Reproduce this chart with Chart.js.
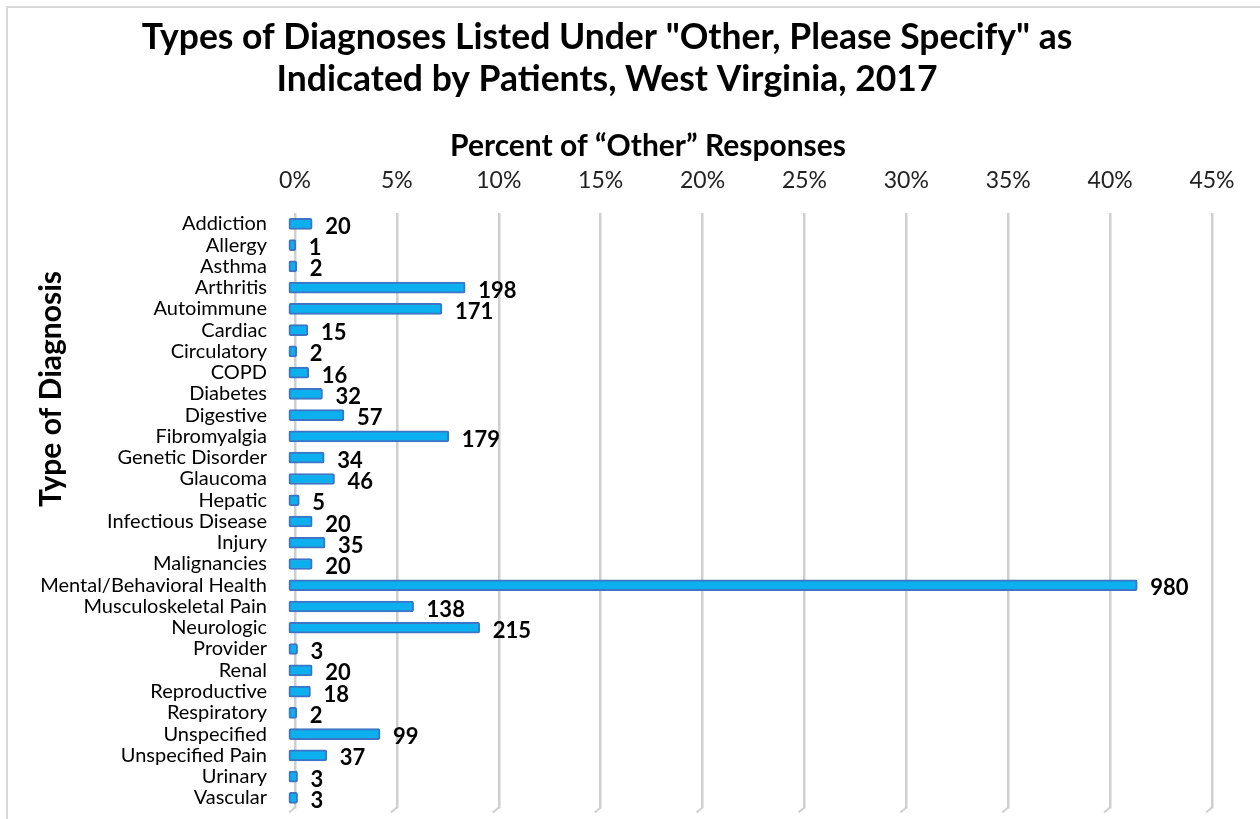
<!DOCTYPE html>
<html>
<head>
<meta charset="utf-8">
<script src="https://cdn.jsdelivr.net/npm/chart.js@4"></script>
<style>
  html, body { margin: 0; padding: 0; background: #fff; overflow: hidden; }
  #frame { position: absolute; left: 6px; top: 6px; width: 1400px; height: 900px;
           border-left: 2px solid #d9d9d9; border-top: 2px solid #d9d9d9; }
  #wrap { position: absolute; left: 0; top: 0; width: 1260px; height: 819px; }
</style>
</head>
<body>
<div id="frame"></div>
<div id="wrap"><canvas id="chart"></canvas></div>
<script>
var categories = ['Addiction', 'Allergy', 'Asthma', 'Arthritis', 'Autoimmune', 'Cardiac',
  'Circulatory', 'COPD', 'Diabetes', 'Digestive', 'Fibromyalgia', 'Genetic Disorder',
  'Glaucoma', 'Hepatic', 'Infectious Disease', 'Injury', 'Malignancies',
  'Mental/Behavioral Health', 'Musculoskeletal Pain', 'Neurologic', 'Provider', 'Renal',
  'Reproductive', 'Respiratory', 'Unspecified', 'Unspecified Pain', 'Urinary', 'Vascular'];
var counts = [20, 1, 2, 198, 171, 15, 2, 16, 32, 57, 179, 34, 46, 5, 20, 35, 20,
  980, 138, 215, 3, 20, 18, 2, 99, 37, 3, 3];
var xTicks = [0, 0.05, 0.10, 0.15, 0.20, 0.25, 0.30, 0.35, 0.40, 0.45];

// share of all "other" responses
var total = counts.reduce(function(s, c) { return s + c; }, 0);
var shares = counts.map(function(c) { return c / total; });

var FONT = "Lato, 'Open Sans', sans-serif";

// count labels at bar ends
var countLabels = {
  id: 'countLabels',
  afterDatasetsDraw: function(chart) {
    var ctx = chart.ctx;
    var meta = chart.getDatasetMeta(0);
    ctx.save();
    ctx.font = 'bold 22px ' + FONT;
    ctx.fillStyle = '#000';
    ctx.textBaseline = 'middle';
    ctx.textAlign = 'left';
    meta.data.forEach(function(bar, i) {
      ctx.fillText(String(counts[i]), bar.x + 13, bar.y + 3);
    });
    ctx.restore();
  }
};

// axis titles sit off-centre in the original, so place them by hand
var axisTitles = {
  id: 'axisTitles',
  afterDraw: function(chart) {
    var ctx = chart.ctx;
    ctx.save();
    ctx.fillStyle = '#000';
    ctx.textAlign = 'center';
    ctx.textBaseline = 'middle';
    ctx.font = 'bold 30px ' + FONT;
    ctx.fillText('Percent of \u201cOther\u201d Responses', 648, 146);
    ctx.translate(51, 389);
    ctx.rotate(-Math.PI / 2);
    ctx.font = 'bold 30px ' + FONT;
    ctx.fillText('Type of Diagnosis', 0, 0);
    ctx.restore();
  }
};

// little slanted foot under each gridline (3-D floor look)
var gridFeet = {
  id: 'gridFeet',
  beforeDatasetsDraw: function(chart) {
    var ctx = chart.ctx;
    var sx = chart.scales.x;
    var bottom = chart.chartArea.bottom;
    ctx.save();
    ctx.strokeStyle = '#cfcfcf';
    ctx.lineWidth = 2;
    xTicks.forEach(function(v) {
      var px = sx.getPixelForValue(v);
      ctx.beginPath();
      ctx.moveTo(px, bottom - 1);
      ctx.lineTo(px - 6, bottom + 4);
      ctx.stroke();
    });
    ctx.restore();
  }
};

new Chart(document.getElementById('chart'), {
  type: 'bar',
  data: {
    labels: categories,
    datasets: [{
      data: shares,
      base: -0.003,
      clip: false,
      backgroundColor: '#0db0ee',
      borderColor: '#3d74c6',
      borderWidth: 2,
      borderSkipped: false,
      borderRadius: 2,
      barThickness: 11
    }]
  },
  options: {
    indexAxis: 'y',
    responsive: true,
    maintainAspectRatio: false,
    animation: false,
    layout: { padding: { top: 16, left: 2, right: 48, bottom: 0 } },
    plugins: {
      legend: { display: false },
      tooltip: { enabled: false },
      title: {
        display: true,
        text: ['Types of Diagnoses Listed Under "Other, Please Specify" as',
               'Indicated by Patients, West Virginia, 2017'],
        color: '#000',
        font: { family: FONT, size: 35.5, weight: 'bold' },
        lineHeight: 1.21,
        padding: { top: 0, bottom: 0 }
      }
    },
    scales: {
      x: {
        position: 'top',
        min: 0,
        max: 0.45,
        afterFit: function(scale) { scale.height = 112; },
        afterBuildTicks: function(scale) {
          scale.ticks = xTicks.map(function(v) { return { value: v }; });
        },
        ticks: {
          color: '#222',
          font: { family: FONT, size: 23 },
          padding: 19,
          callback: function(v) { return Math.round(v * 100) + '%'; }
        },
        grid: { color: '#cfcfcf', lineWidth: 2.5, drawTicks: false },
        border: { display: false }
      },
      y: {
        afterFit: function(scale) { scale.width = 293; },
        ticks: {
          color: '#000',
          font: { family: FONT, size: 20, lineHeight: 1.05 },
          padding: 0,
          autoSkip: false
        },
        grid: { display: false, drawTicks: true, tickLength: 28 },
        border: { display: false }
      }
    }
  },
  plugins: [gridFeet, countLabels, axisTitles]
});
</script>
</body>
</html>
